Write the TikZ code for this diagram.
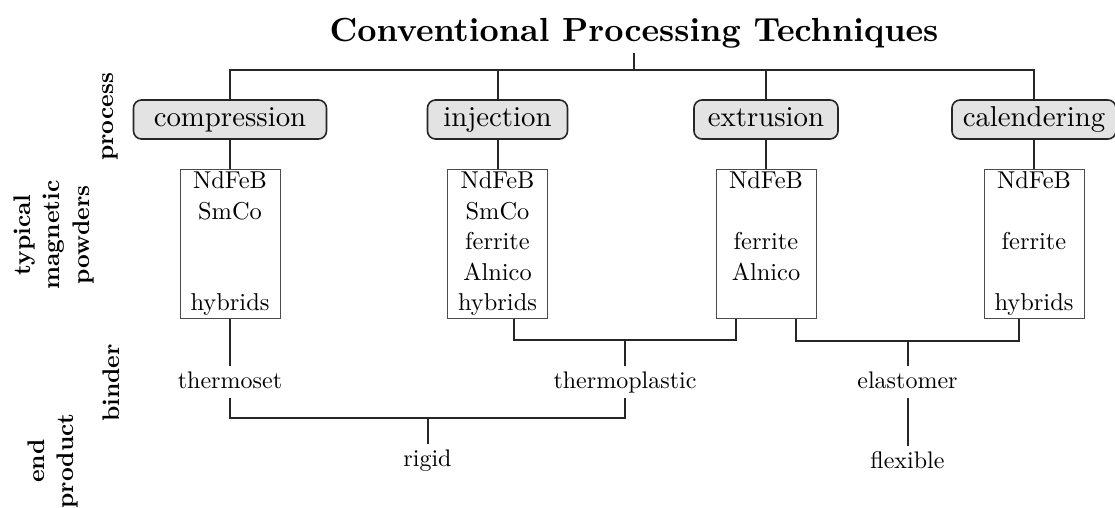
\documentclass[tikz,border=0pt]{standalone}
\usepackage{fontspec}
\setmainfont{lmroman10-regular.otf}[BoldFont=lmroman10-bold.otf]
\usetikzlibrary{calc}
\begin{document}
\begin{tikzpicture}[x=0.5pt,y=-0.5pt,
  conn/.style={line width=1pt, draw=black!85},
  proc/.style={draw=black!85, line width=0.8pt, fill=black!11, rounded corners=4pt,
    minimum height=19.5pt, inner sep=0pt, font=\fontsize{14.4}{17}\selectfont,
    text height=10pt, text depth=2.8pt},
  powder/.style={draw=black!70, line width=0.5pt, minimum width=50pt, minimum height=74pt,
    inner sep=0pt, align=center, font=\fontsize{12.2}{15.25}\selectfont},
  lbl/.style={inner sep=2.5pt, font=\fontsize{12}{14.5}\selectfont, text height=8.4pt, text depth=2.4pt},
  side/.style={rotate=90, align=center, font=\fontsize{12}{14.75}\selectfont\bfseries, inner sep=0pt},
]
\useasboundingbox (0,0) rectangle (1115,508);

\node[anchor=base, inner sep=2pt, font=\fontsize{16.7}{20}\selectfont\bfseries] (title) at (634,42) {Conventional Processing Techniques};

% process nodes
\node[proc, minimum width=96.5pt] (comp) at (230,119.5) {compression};
\node[proc, minimum width=70pt]   (inj)  at (497.5,119.5) {injection};
\node[proc, minimum width=72pt]   (extr) at (766,119.5) {extrusion};
\node[proc, minimum width=82pt]   (cal)  at (1034,119.5) {calendering};

% powder boxes
\node[powder] (pcomp) at (230,244)   {NdFeB\\SmCo\\~\\~\\hybrids};
\node[powder] (pinj)  at (497.5,244) {NdFeB\\SmCo\\ferrite\\Alnico\\hybrids};
\node[powder] (pextr) at (766,244)   {NdFeB\\~\\ferrite\\Alnico\\\vphantom{y}~};
\node[powder] (pcal)  at (1034,244)  {NdFeB\\~\\ferrite\\~\\hybrids};

% binders and end products
\node[lbl] (tset)  at (230,382)   {thermoset};
\node[lbl] (tplas) at (625,382)   {thermoplastic};
\node[lbl] (elast) at (907.5,382) {elastomer};
\node[lbl] (rigid) at (427.5,460) {rigid};
\node[lbl] (flex)  at (907.5,462) {flexible};

% side labels
\node[side] (sproc) at (110,117) {process};
\node[side] (spow)  at (54,235)  {typical\\magnetic\\powders};
\node[side] (sbind) at (111,383) {binder};
\node[side] (send)  at (53,461)  {end\\product};

% connectors
\coordinate (top) at (634,70);
\draw[conn] (title.south) -- (top);
\draw[conn] (comp.north) |- (top) -| (cal.north);
\draw[conn] (inj.north) -- (inj.north |- top);
\draw[conn] (extr.north) -- (extr.north |- top);

\draw[conn] (comp.south) -- (pcomp.north);
\draw[conn] (inj.south) -- (pinj.north);
\draw[conn] (extr.south) -- (pextr.north);
\draw[conn] (cal.south) -- (pcal.north);

\draw[conn] (pcomp.south) -- (tset.north);

\coordinate (jtp) at (625,340);
\draw[conn] ($(pinj.south)+(16.5,0)$) |- (jtp) -| ($(pextr.south)+(-30,0)$);
\draw[conn] (jtp) -- (tplas.north);

\coordinate (jel) at (907.5,341);
\draw[conn] ($(pextr.south)+(30,0)$) |- (jel) -| ($(pcal.south)+(-15,0)$);
\draw[conn] (jel) -- (elast.north);

\coordinate (jr) at (427.5,418);
\draw[conn] (tset.south) |- (jr) -| (tplas.south);
\draw[conn] (jr) -- (rigid.north);
\draw[conn] (elast.south) -- (flex.north);
\end{tikzpicture}
\end{document}
